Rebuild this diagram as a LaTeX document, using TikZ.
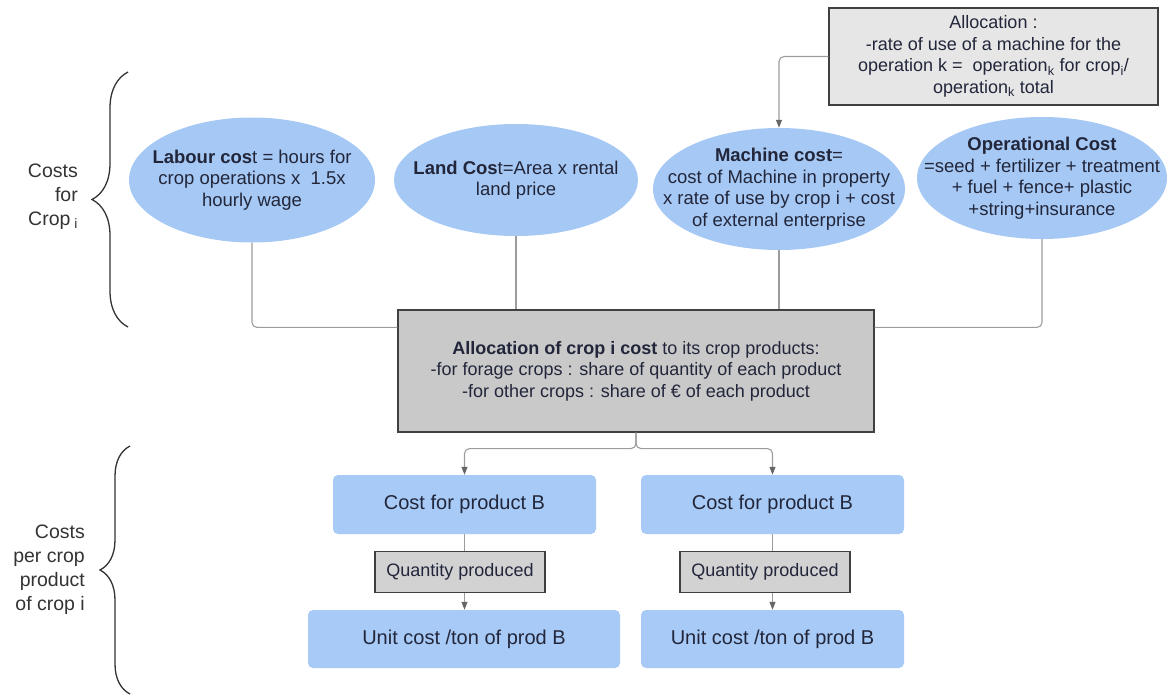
\documentclass[tikz,border=0pt]{standalone}
\usepackage{fontspec}
\setmainfont{Liberation Sans}
\usetikzlibrary{shapes.geometric,arrows.meta,decorations.pathreplacing,calc}
\definecolor{ellblue}{HTML}{A6C8F4}
\definecolor{boxblue}{HTML}{A8CAF6}
\definecolor{lightgray}{HTML}{E6E6E6}
\definecolor{midgray}{HTML}{C9C9C9}
\definecolor{qgray}{HTML}{D2D2D2}
\definecolor{txt}{HTML}{22263A}
\definecolor{conncol}{HTML}{9C9C9C}
\definecolor{tipcol}{HTML}{666666}
\begin{document}
\begin{tikzpicture}[x=1pt,y=-1pt,
  ell/.style={ellipse,fill=ellblue,draw=none,inner sep=0pt},
  etext/.style={align=center,text=txt,font=\fontsize{18.5}{21.5}\selectfont,inner sep=0pt},
  graybox/.style={rectangle,draw=black!75,line width=1.2pt,align=center,text=txt,font=\fontsize{18}{21.5}\selectfont,inner sep=0pt},
  bluebox/.style={rectangle,rounded corners=5pt,fill=boxblue,draw=none,align=center,text=txt,font=\fontsize{20}{23}\selectfont,inner sep=0pt},
  conn/.style={draw=conncol,line width=1.1pt,rounded corners=5pt},
  arr/.style={conn,-{Triangle[length=8pt,width=6pt,fill=tipcol,color=tipcol]}},
  curly/.style={draw=black!80,line width=1.3pt,decorate},
  side/.style={align=right,text=black!80,font=\fontsize{19.5}{24}\selectfont,inner sep=0pt,anchor=east}
]
\useasboundingbox (0,0) rectangle (1168,696);

% top allocation box
\node[graybox,fill=lightgray,minimum width=329pt,minimum height=97pt] (alloc) at (993.5,56.5)
  {Allocation :\\-rate of use of a machine for the\\operation k =\ \ operation\textsubscript{k} for crop\textsubscript{i}/\\operation\textsubscript{k} total};

% ellipses
\node[ell,minimum width=246pt,minimum height=125pt] (lab) at (252,180) {};
\node[etext] (labt) at (lab) {\textbf{Labour cos}t = hours for\\crop operations x\ \ 1.5x\\hourly wage};
\node[ell,minimum width=244pt,minimum height=112pt] (land) at (516,180) {};
\node[etext] (landt) at (land) {\textbf{Land Cos}t=Area x rental\\land price};
\node[ell,minimum width=252pt,minimum height=122pt] (mach) at (779,189) {};
\node[etext] (macht) at (mach) {\textbf{Machine cost}=\\cost of Machine in property\\x rate of use by crop i + cost\\of external enterprise};
\node[ell,minimum width=250pt,minimum height=122pt] (oper) at (1042,178) {};
\node[etext] (opert) at (oper) {\textbf{Operational Cost}\\=seed + fertilizer + treatment\\+ fuel + fence+ plastic\\+string+insurance};

% big allocation box
\node[graybox,fill=midgray,minimum width=476pt,minimum height=122pt] (big) at (636,371)
  {\textbf{Allocation of crop i cost} to its crop products:\\-for forage crops : share of quantity of each product\\-for other crops : share of € of each product};

% product boxes
\node[bluebox,minimum width=263pt,minimum height=59pt] (cb1) at (464.5,504.5) {Cost for product B};
\node[bluebox,minimum width=263pt,minimum height=59pt] (cb2) at (772.5,504.5) {Cost for product B};
\node[graybox,fill=qgray,line width=1.1pt,minimum width=170pt,minimum height=41pt] (q1) at (460,572) {Quantity produced};
\node[graybox,fill=qgray,line width=1.1pt,minimum width=170pt,minimum height=41pt] (q2) at (765,572) {Quantity produced};
\node[bluebox,minimum width=312pt,minimum height=58pt] (u1) at (464,639) {Unit cost /ton of prod B};
\node[bluebox,minimum width=263pt,minimum height=58pt] (u2) at (772.5,639) {Unit cost /ton of prod B};

% connectors
\draw[conn] (lab.south) |- ([yshift=-18pt]big.north west);
\draw[conn] (land.south) -- (land.south |- big.north);
\draw[conn] (mach.south) -- (mach.south |- big.north);
\draw[conn] (oper.south) |- ([yshift=-18pt]big.north east);
\draw[arr] (alloc.west) -| (mach.north);
\coordinate (split) at ([yshift=-16pt]big.south);
\draw[arr] (big.south) -- (split) -| (cb1.north);
\draw[arr] (big.south) -- (split) -| (cb2.north);
\draw[conn] (cb1.south) -- (cb1.south |- q1.north);
\draw[conn] (cb2.south) -- (cb2.south |- q2.north);
\draw[arr] (cb1.south |- q1.south) -- (cb1.south |- u1.north);
\draw[arr] (cb2.south |- q2.south) -- (cb2.south |- u2.north);

% braces and side labels
\coordinate (b1s) at (128,327);
\coordinate (b1e) at (128,72);
\draw[curly,decoration={brace,amplitude=36pt}] (b1s) -- (b1e);
\node[side] (lab1) at (78,197) {Costs\\for\\Crop\textsubscript{ i}};
\coordinate (b2s) at (130,694);
\coordinate (b2e) at (130,446);
\draw[curly,decoration={brace,amplitude=30pt}] (b2s) -- (b2e);
\node[side] (lab2) at (85,570) {Costs\\per crop\\product\\of crop i};
\end{tikzpicture}
\end{document}
